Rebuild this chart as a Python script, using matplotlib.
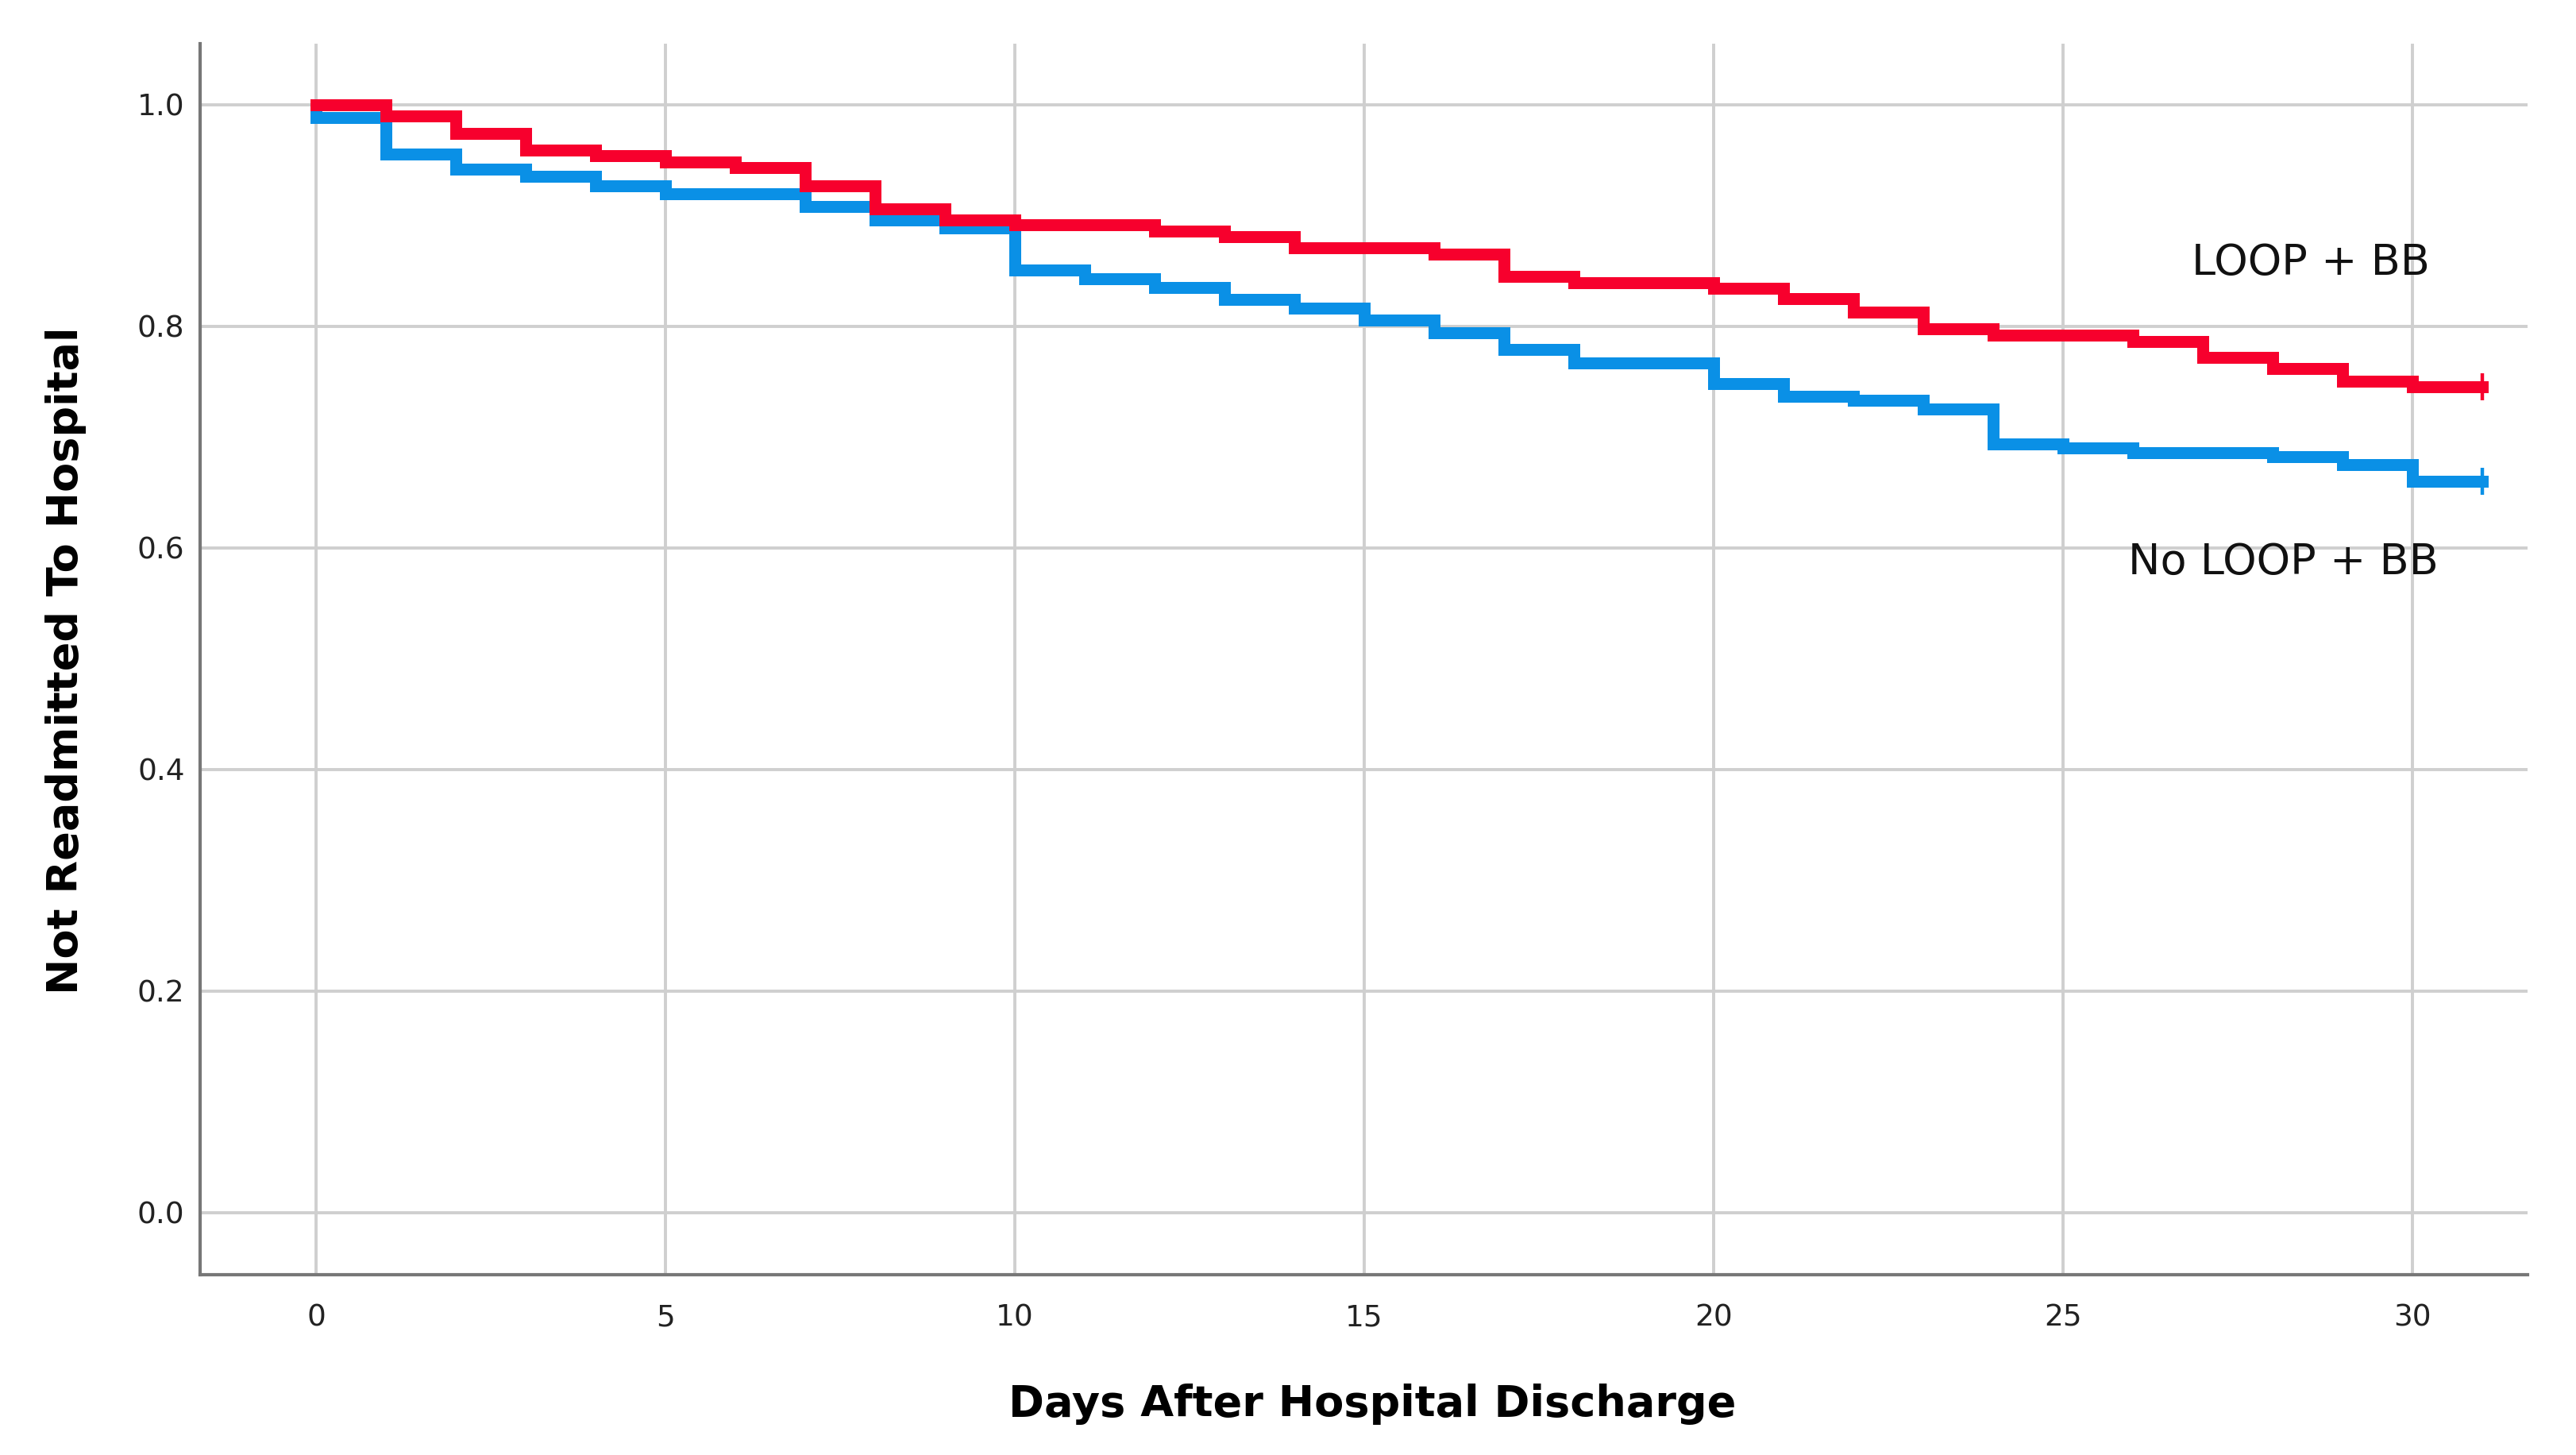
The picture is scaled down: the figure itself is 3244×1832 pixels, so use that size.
import numpy as np
import matplotlib
matplotlib.use('Agg')
import matplotlib.pyplot as plt

# survival per day interval [d, d+1)
days = np.arange(0, 32)
loop_bb = [1.0, 0.9895, 0.974, 0.959, 0.954, 0.948, 0.943, 0.927, 0.906, 0.896,
           0.8915, 0.8915, 0.886, 0.881, 0.871, 0.871, 0.865, 0.845, 0.839, 0.839,
           0.834, 0.8246, 0.813, 0.798, 0.792, 0.792, 0.786, 0.772, 0.762, 0.750,
           0.745]
no_loop_bb = [0.988, 0.955, 0.942, 0.935, 0.927, 0.9195, 0.9195, 0.908, 0.896, 0.889,
              0.851, 0.843, 0.835, 0.824, 0.816, 0.8055, 0.794, 0.779, 0.7665, 0.7665,
              0.748, 0.737, 0.733, 0.725, 0.694, 0.690, 0.686, 0.686, 0.6824, 0.675,
              0.660]
censor_day = 31
labels = ['LOOP + BB', 'No LOOP + BB']
label_pos = [(28.55, 0.857), (28.15, 0.587)]

red = '#f7002d'
blue = '#0a90e6'

fig = plt.figure(figsize=(16.22, 9.16), dpi=200)
ax = fig.add_axes([0.0777, 0.1239, 0.9035, 0.8461])

# blue curve starts at 1.0 and drops right at day 0
xb = np.concatenate([[0], days])
yb = np.concatenate([[1.0], no_loop_bb, [no_loop_bb[-1]]])
ax.step(xb, yb, where='post', color=blue, lw=5.4, solid_joinstyle='miter', zorder=3)

xr = days
yr = np.append(loop_bb, loop_bb[-1])
ax.step(xr, yr, where='post', color=red, lw=5.4, solid_joinstyle='miter', zorder=4)

ax.plot([censor_day], [no_loop_bb[-1]], marker='|', ms=12.5, mew=1.6, color=blue, zorder=5)
ax.plot([censor_day], [loop_bb[-1]], marker='|', ms=12.5, mew=1.6, color=red, zorder=5)

for lab, (lx, ly) in zip(labels, label_pos):
    ax.text(lx, ly, lab, fontsize=19.5, ha='center', va='center', color='#111111')

ax.set_xlim(-1.66, 31.65)
ax.set_ylim(-0.056, 1.055)
ax.set_xticks(np.arange(0, 31, 5))
ax.set_yticks(np.arange(0, 1.01, 0.2))
ax.set_yticklabels([f'{v:.1f}' for v in np.arange(0, 1.01, 0.2)])
ax.grid(True, color='#cfcfcf', lw=1.4)
ax.set_axisbelow(True)

for s in ['top', 'right']:
    ax.spines[s].set_visible(False)
for s in ['left', 'bottom']:
    ax.spines[s].set_color('#777777')
    ax.spines[s].set_linewidth(1.5)

ax.tick_params(axis='both', length=0, labelsize=13.5, labelcolor='#222222')
ax.tick_params(axis='x', pad=13)
ax.tick_params(axis='y', pad=7)

ax.set_xlabel('Days After Hospital Discharge', fontsize=19.5, fontweight='bold', va='center')
ax.set_ylabel('Not Readmitted To Hospital', fontsize=19.5, fontweight='bold', va='center')
ax.xaxis.set_label_coords(0.5036, -0.105)
ax.yaxis.set_label_coords(-0.0577, 0.4987)

fig.savefig('out.png', dpi=200, facecolor='white')
